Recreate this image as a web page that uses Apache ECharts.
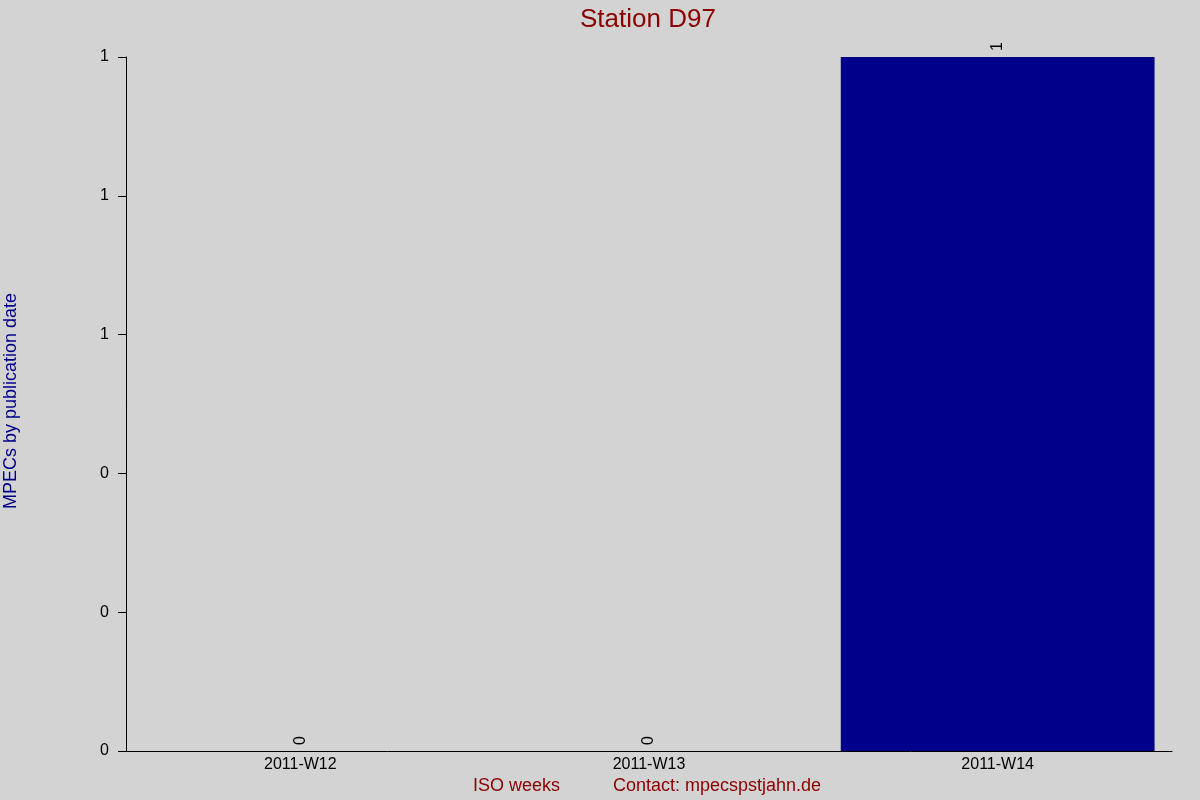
<!DOCTYPE html>
<html>
<head>
  <meta charset="utf-8">
  <title>Station D97</title>
  <script src="https://cdn.jsdelivr.net/npm/echarts@6/dist/echarts.min.js"></script>
  <style>
    html, body { margin: 0; padding: 0; background: #d3d3d3; }
  </style>
</head>
<body>
  <div id="chart" style="width: 1200px; height: 800px;"></div>

  <script>
    // data
    const weeks = ['2011-W12', '2011-W13', '2011-W14'];
    const mpecCounts = [0, 0, 1];
    const yTicks = [0, 0.2, 0.4, 0.6, 0.8, 1];

    const chart = echarts.init(document.getElementById('chart'));

    chart.setOption({
      backgroundColor: '#d3d3d3',
      animation: false,
      textStyle: { fontFamily: 'Liberation Sans, Arial, sans-serif' },
      title: {
        text: 'Station D97',
        left: 580,
        top: 7,
        padding: 0,
        textStyle: { color: '#8b0000', fontSize: 26, fontWeight: 'normal' }
      },
      grid: { left: 126, right: 28, top: 57, bottom: 49 },
      xAxis: {
        type: 'category',
        data: weeks,
        axisLine: { show: true, lineStyle: { color: '#000', width: 1 } },
        axisTick: { show: false },
        axisLabel: { color: '#000', fontSize: 16, margin: 6 }
      },
      yAxis: {
        type: 'value',
        min: yTicks[0],
        max: yTicks[yTicks.length - 1],
        interval: 0.2,
        splitLine: { show: false },
        axisLine: { show: true, lineStyle: { color: '#000', width: 1 } },
        axisTick: { show: true, length: 8, lineStyle: { color: '#000' } },
        axisLabel: {
          color: '#000',
          fontSize: 16,
          margin: 17,
          formatter: v => String(Math.round(v))
        }
      },
      graphic: [
        {
          type: 'text',
          left: 2,
          top: 293,
          style: { text: 'MPECs by publication date', fill: '#00008b', font: '18px Liberation Sans, Arial, sans-serif' },
          rotation: Math.PI / 2
        },
        {
          type: 'text',
          left: 473,
          top: 777,
          style: { text: 'ISO weeks', fill: '#8b0000', font: '18px Liberation Sans, Arial, sans-serif' }
        },
        {
          type: 'text',
          left: 613,
          top: 777,
          style: { text: 'Contact: mpecspstjahn.de', fill: '#8b0000', font: '18px Liberation Sans, Arial, sans-serif' }
        }
      ],
      series: [
        {
          type: 'bar',
          data: mpecCounts,
          barWidth: '90%',
          itemStyle: { color: '#00008b' },
          label: {
            show: true,
            position: 'top',
            distance: 6,
            rotate: 90,
            align: 'left',
            verticalAlign: 'middle',
            color: '#000',
            fontSize: 16
          }
        }
      ]
    });
  </script>
</body>
</html>
